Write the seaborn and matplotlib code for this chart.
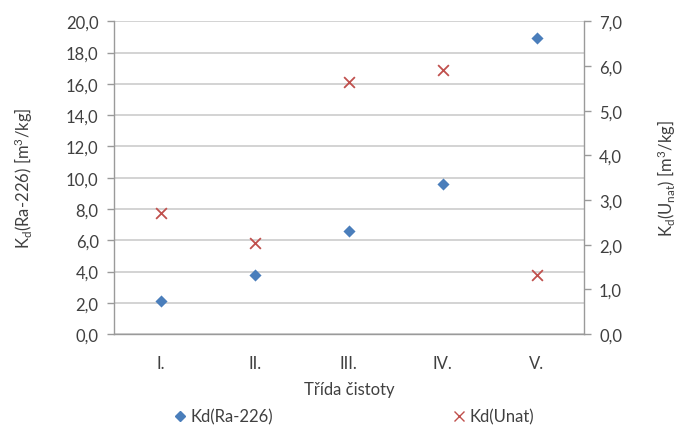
import matplotlib
matplotlib.use("Agg")
import matplotlib.pyplot as plt
import seaborn as sns
import pandas as pd
from matplotlib.ticker import FuncFormatter, FixedLocator, MultipleLocator
from matplotlib.lines import Line2D

categories = ["I.", "II.", "III.", "IV.", "V."]
kd_ra226 = [2.1, 3.8, 6.6, 9.6, 18.9]
kd_unat = [2.70, 2.03, 5.63, 5.91, 1.33]

sns.set_theme(style="white")
plt.rcParams['font.family'] = ['Lato', 'DejaVu Sans']
plt.rcParams['mathtext.default'] = 'regular'

TXT = '#404040'
GRID = '#c8c8c8'
AX = '#9a9a9a'
BLUE = '#4a7ebb'
RED = '#c0504d'

df = pd.DataFrame({"cls": categories, "ra": kd_ra226, "u": kd_unat})

fig = plt.figure(figsize=(6.78, 4.27), dpi=100)
ax = fig.add_axes([0.168, 0.215, 0.693, 0.733])
ax2 = ax.twinx()

sns.scatterplot(data=df, x="cls", y="ra", ax=ax, marker='D', s=38, color=BLUE,
                edgecolor=BLUE, linewidth=0, zorder=3)
sns.scatterplot(data=df, x="cls", y="u", ax=ax2, marker='x', s=60, color=RED,
                linewidth=1.3, zorder=3)

ax.set_xlim(-0.5, len(categories) - 0.5)
ax.set_ylim(0, 20)
ax2.set_ylim(0, 7)
ax.yaxis.set_major_locator(MultipleLocator(2))
ax2.yaxis.set_major_locator(MultipleLocator(1))
fmt = FuncFormatter(lambda v, p: f"{v:.1f}".replace('.', ','))
ax.yaxis.set_major_formatter(fmt)
ax2.yaxis.set_major_formatter(fmt)

ax.grid(axis='y', color=GRID, linewidth=1.1)
ax.set_axisbelow(True)

ax.set_xticks(range(len(categories)))
ax.set_xticklabels(categories)
ax.xaxis.set_minor_locator(FixedLocator([i - 0.5 for i in range(len(categories) + 1)]))
ax.tick_params(axis='x', which='major', length=0, pad=15, labelsize=12, labelcolor=TXT)
ax.tick_params(axis='x', which='minor', length=5, color=AX, width=1, direction='out')
ax.tick_params(axis='y', length=5, color=AX, width=1, direction='out', labelsize=12,
               labelcolor=TXT, pad=6, left=True)
ax2.tick_params(axis='y', length=5, color=AX, width=1, direction='out', labelsize=12,
                labelcolor=TXT, pad=6, right=True)

for a in (ax, ax2):
    for s in a.spines.values():
        s.set_visible(False)
ax.spines['left'].set_visible(True)
ax.spines['bottom'].set_visible(True)
ax2.spines['right'].set_visible(True)
for s in (ax.spines['left'], ax.spines['bottom'], ax2.spines['right']):
    s.set_color(AX)
    s.set_linewidth(1)

ax.set_xlabel("Třída čistoty", fontsize=12, color=TXT, labelpad=7)
ax.set_ylabel(r"K$_{d}$(Ra-226) [m$^{3}$/kg]", fontsize=12, color=TXT, labelpad=22)
ax2.set_ylabel(r"K$_{d}$(U$_{nat}$) [m$^{3}$/kg]", fontsize=12, color=TXT, labelpad=24)

handles = [
    Line2D([], [], marker='D', color=BLUE, linestyle='none', markersize=5.5),
    Line2D([], [], marker='x', color=RED, linestyle='none', markersize=7, markeredgewidth=1.0),
]
fig.legend(handles, ["Kd(Ra-226)", "Kd(Unat)"], loc='lower center',
           bbox_to_anchor=(0.520, -0.032), ncol=2, frameon=False, fontsize=12,
           columnspacing=10.65, handletextpad=0.05, handlelength=1.1, labelcolor=TXT)

fig.savefig("out.png", dpi=100, facecolor='white')
